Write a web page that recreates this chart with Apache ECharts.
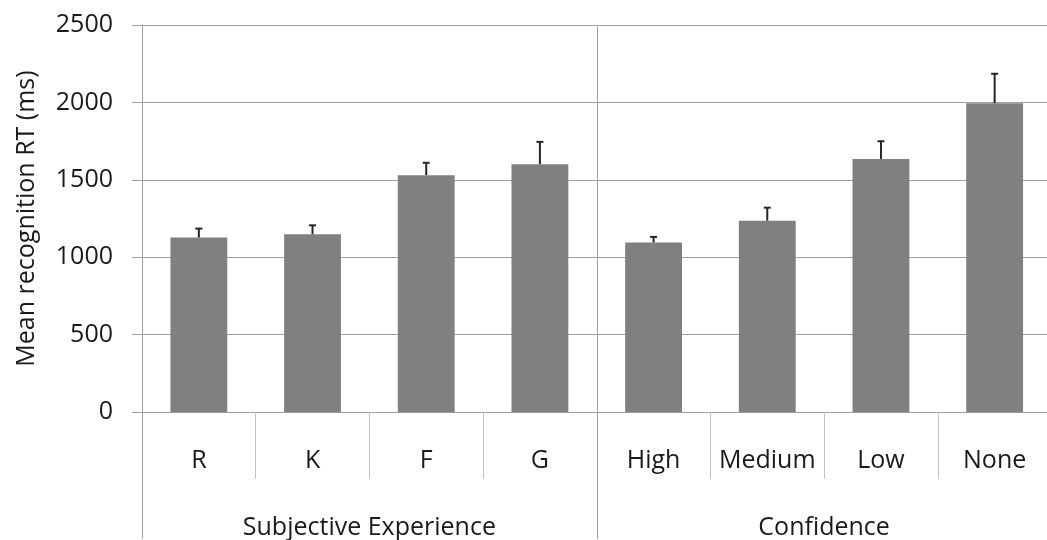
<!DOCTYPE html>
<html>
<head>
<meta charset="utf-8">
<script src="https://cdn.jsdelivr.net/npm/echarts@6/dist/echarts.min.js"></script>
<style>
html,body{margin:0;padding:0;background:#fff;overflow:hidden;width:1047px;height:540px;}
#chart{width:1060px;height:540px;}
</style>
</head>
<body>
<div id="chart"></div>
<script>
const categories = ['R', 'K', 'F', 'G', 'High', 'Medium', 'Low', 'None'];
const groups = ['Subjective Experience', 'Confidence'];
const meanRT = [1127, 1148, 1530, 1601, 1095, 1236, 1635, 1995];
const errUp = [58, 58, 80, 144, 36, 84, 114, 190];
const yTicks = [0, 500, 1000, 1500, 2000, 2500];
const yTitle = 'Mean recognition RT (ms)';

const FONT = 'Open Sans';
const FS = 25;
const chart = echarts.init(document.getElementById('chart'), null, {renderer: 'canvas'});

const errData = meanRT.map((v, i) => [i, v, errUp[i]]);

const option = {
  animation: false,
  backgroundColor: '#fff',
  textStyle: {fontFamily: FONT},
  grid: {left: 142, top: 25, right: 8.5, bottom: 127, containLabel: false},
  xAxis: [
    {
      type: 'category',
      data: categories,
      position: 'bottom',
      axisLine: {show: true, lineStyle: {color: '#a0a0a0', width: 1}},
      axisTick: {show: true, interval: 0, length: 67, lineStyle: {color: '#c4c4c4', width: 1}},
      axisLabel: {interval: 0, margin: 36, color: '#1a1a1a', fontSize: FS, fontFamily: FONT},
      splitLine: {show: false}
    },
    {
      type: 'category',
      data: groups,
      position: 'bottom',
      axisLine: {show: false},
      axisTick: {show: true, interval: 0, length: 127, lineStyle: {color: '#a0a0a0', width: 1}},
      axisLabel: {interval: 0, margin: 103, color: '#1a1a1a', fontSize: FS, fontFamily: FONT},
      splitLine: {show: true, interval: 0, lineStyle: {color: '#a0a0a0', width: 1}}
    }
  ],
  yAxis: {
    type: 'value',
    min: yTicks[0],
    max: yTicks[yTicks.length - 1],
    interval: yTicks[1] - yTicks[0],
    name: yTitle,
    nameLocation: 'middle',
    nameGap: 103,
    nameTextStyle: {color: '#1a1a1a', fontSize: FS, fontFamily: FONT},
    axisLine: {show: true, lineStyle: {color: '#a0a0a0', width: 1}},
    axisTick: {show: true, length: 10, lineStyle: {color: '#a0a0a0', width: 1}},
    axisLabel: {margin: 29, color: '#1a1a1a', fontSize: FS, fontFamily: FONT,
      formatter: function (v) { return String(v); }},
    splitLine: {show: true, lineStyle: {color: '#a0a0a0', width: 1}}
  },
  series: [
    {
      type: 'bar',
      xAxisIndex: 0,
      data: meanRT,
      barWidth: '50%',
      itemStyle: {color: '#808080'},
      z: 2
    },
    {
      type: 'custom',
      xAxisIndex: 0,
      data: errData,
      z: 3,
      renderItem: function (params, api) {
        const x = api.value(0);
        const base = api.coord([x, api.value(1)]);
        const top = api.coord([x, api.value(1) + api.value(2)]);
        const hw = 3.5;
        return {
          type: 'group',
          children: [
            {type: 'line', shape: {x1: base[0], y1: base[1], x2: top[0], y2: top[1]},
             style: {stroke: '#262626', lineWidth: 2}},
            {type: 'line', shape: {x1: top[0] - hw, y1: top[1], x2: top[0] + hw, y2: top[1]},
             style: {stroke: '#262626', lineWidth: 2}}
          ]
        };
      }
    }
  ]
};
chart.setOption(option);
</script>
</body>
</html>
